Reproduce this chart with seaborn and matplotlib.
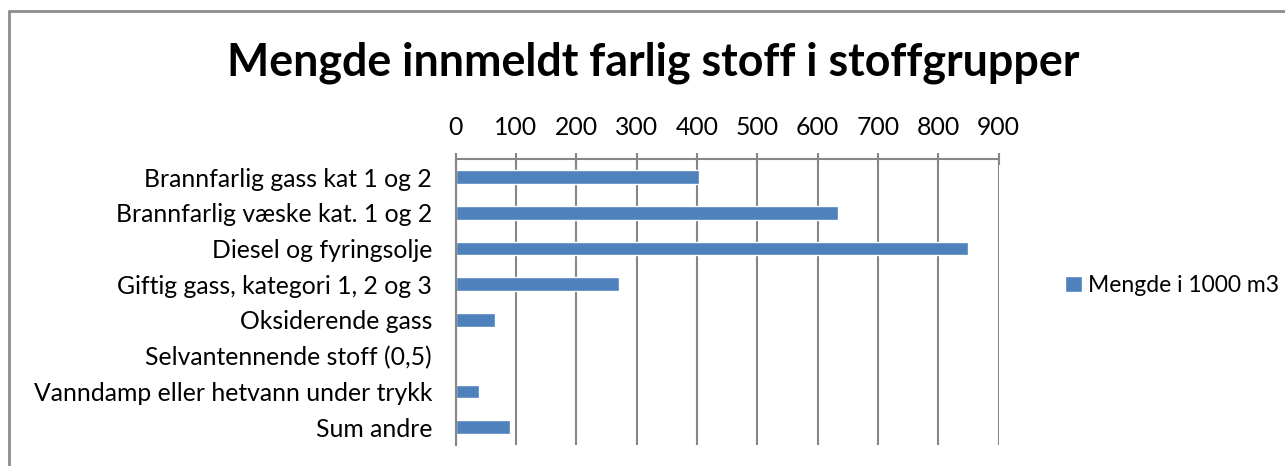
import matplotlib
matplotlib.use("Agg")
import matplotlib.pyplot as plt
import seaborn as sns
import pandas as pd
import numpy as np
from matplotlib.lines import Line2D

# data
categories = [
    "Brannfarlig gass kat 1 og 2",
    "Brannfarlig væske kat. 1 og 2",
    "Diesel og fyringsolje",
    "Giftig gass, kategori 1, 2 og 3",
    "Oksiderende gass",
    "Selvantennende stoff (0,5)",
    "Vanndamp eller hetvann under trykk",
    "Sum andre",
]
mengde = [403, 634, 849, 271, 65, 0.5, 38, 90]
x_ticks = [0, 100, 200, 300, 400, 500, 600, 700, 800, 900]

title = "Mengde innmeldt farlig stoff i stoffgrupper"
series_name = "Mengde i 1000 m3"

df = pd.DataFrame({"kategori": categories, "mengde": mengde})

sns.set_style("white")
plt.rcParams["font.family"] = ["Lato", "DejaVu Sans"]
plt.rcParams["text.color"] = "black"
plt.rcParams["xtick.labelcolor"] = "black"
plt.rcParams["ytick.labelcolor"] = "black"

grey = "#868686"
bar_color = "#4F81BD"
fs = 17.8

fig = plt.figure(figsize=(12.85, 4.66), dpi=100)
ax = fig.add_axes([0.3546, 0.0451, 0.4226, 0.6131])

sns.barplot(data=df, y="kategori", x="mengde", orient="h", color=bar_color,
            width=0.38, saturation=1, label=series_name, ax=ax)

ax.set_xlim(0, 900)
ax.set_ylim(len(categories) - 0.5, -0.5)
ax.xaxis.tick_top()
ax.set_xticks(x_ticks)
ax.set_xticklabels([str(t) for t in x_ticks], fontsize=fs)
ax.tick_params(axis="x", which="major", length=9, width=1.5, color=grey,
               direction="inout", pad=10)
ax.grid(axis="x", color=grey, linewidth=1.5)
ax.set_axisbelow(True)

# category ticks sit between categories
ax.set_yticks(np.arange(len(categories)))
ax.set_yticklabels(categories, fontsize=fs)
ax.set_yticks(np.arange(len(categories) + 1) - 0.5, minor=True)
ax.tick_params(axis="y", which="major", length=0, pad=17)
ax.tick_params(axis="y", which="minor", length=8, width=1.5, color=grey,
               direction="out")
ax.set_xlabel("")
ax.set_ylabel("")

for side in ["right", "bottom"]:
    ax.spines[side].set_visible(False)
for side in ["left", "top"]:
    ax.spines[side].set_color(grey)
    ax.spines[side].set_linewidth(1.5)

leg = ax.legend(loc="center left", bbox_to_anchor=(1.085, 0.558), frameon=False,
                fontsize=16.5, handlelength=0.7, handleheight=0.7,
                handletextpad=0.3)

fig.text(0.508, 0.865, title, ha="center", va="center", fontsize=32.2,
         fontweight="bold")

# outer chart border (top and left visible)
fig.add_artist(Line2D([8.7 / 1285, 1.0], [1 - 10.7 / 466] * 2,
                      transform=fig.transFigure, color="#8c8c8c", linewidth=2))
fig.add_artist(Line2D([8.7 / 1285] * 2, [0.0, 1 - 10.7 / 466],
                      transform=fig.transFigure, color="#8c8c8c", linewidth=2))

fig.savefig("out.png", dpi=100)
